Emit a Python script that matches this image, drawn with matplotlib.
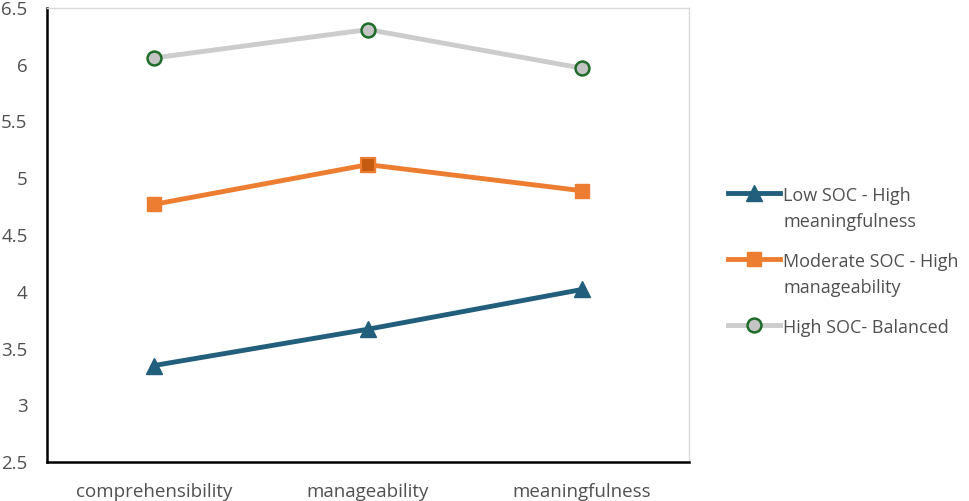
import matplotlib

matplotlib.use("Agg")
import matplotlib.pyplot as plt

plt.rcParams["font.family"] = ["Open Sans", "DejaVu Sans"]

CATEGORIES = ["comprehensibility", "manageability", "meaningfulness"]
LOW = [3.35, 3.67, 4.02]
MODERATE = [4.77, 5.12, 4.89]
HIGH = [6.06, 6.31, 5.97]
LABELS = ["Low SOC - High\nmeaningfulness",
          "Moderate SOC - High\nmanageability",
          "High SOC- Balanced"]
YTICKS = [2.5, 3, 3.5, 4, 4.5, 5, 5.5, 6, 6.5]

TEXT = "#505050"
BLUE = "#215F7D"
ORANGE = "#ED7D31"
GREY = "#CCCCCC"
GREEN = "#1E6B2A"

fig = plt.figure(figsize=(9.69, 5.01), dpi=100)
ax = fig.add_axes([47 / 969, 1 - 462 / 501, 642 / 969, 454 / 501])

x = list(range(len(CATEGORIES)))
ax.plot(x, LOW, color=BLUE, lw=3.5, marker="^", ms=11, label=LABELS[0])
ax.plot(x, MODERATE, color=ORANGE, lw=3.5, marker="s", ms=10, label=LABELS[1])
# the middle orange point is drawn a shade darker in the source
ax.plot(x[1], MODERATE[1], ls="none", marker="s", ms=10, mfc="#C55A11",
        mec=ORANGE, mew=1.5)
ax.plot(x, HIGH, color=GREY, lw=3.5, marker="o", ms=10, mfc="#C4C4C4",
        mec=GREEN, mew=1.8, label=LABELS[2])

ax.set_xlim(-0.5, 2.5)
ax.set_ylim(2.5, 6.5)
ax.set_yticks(YTICKS)
ax.set_yticklabels([f"{v:g}" for v in YTICKS])
ax.set_xticks(x)
ax.set_xticklabels(CATEGORIES)
ax.tick_params(length=0, colors=TEXT, labelsize=13.5)
ax.tick_params(axis="x", pad=15)
ax.tick_params(axis="y", pad=14)

for side in ("left", "bottom"):
    ax.spines[side].set_color("black")
    ax.spines[side].set_linewidth(1.8)
for side in ("top", "right"):
    ax.spines[side].set_color("#D9D9D9")
    ax.spines[side].set_linewidth(1.0)

leg = fig.legend(loc="center left", bbox_to_anchor=(728 / 969, 0.477),
                 frameon=False, fontsize=13, handlelength=2.9,
                 handletextpad=0.15, labelspacing=1.2, borderpad=0,
                 borderaxespad=0)
for t in leg.get_texts():
    t.set_color(TEXT)
    t.set_linespacing(1.6)
# keep each handle level with the first line of its label
for col in leg._legend_handle_box.get_children():
    for row in col.get_children():
        row.align = "top"

fig.savefig("out.png", dpi=100)
